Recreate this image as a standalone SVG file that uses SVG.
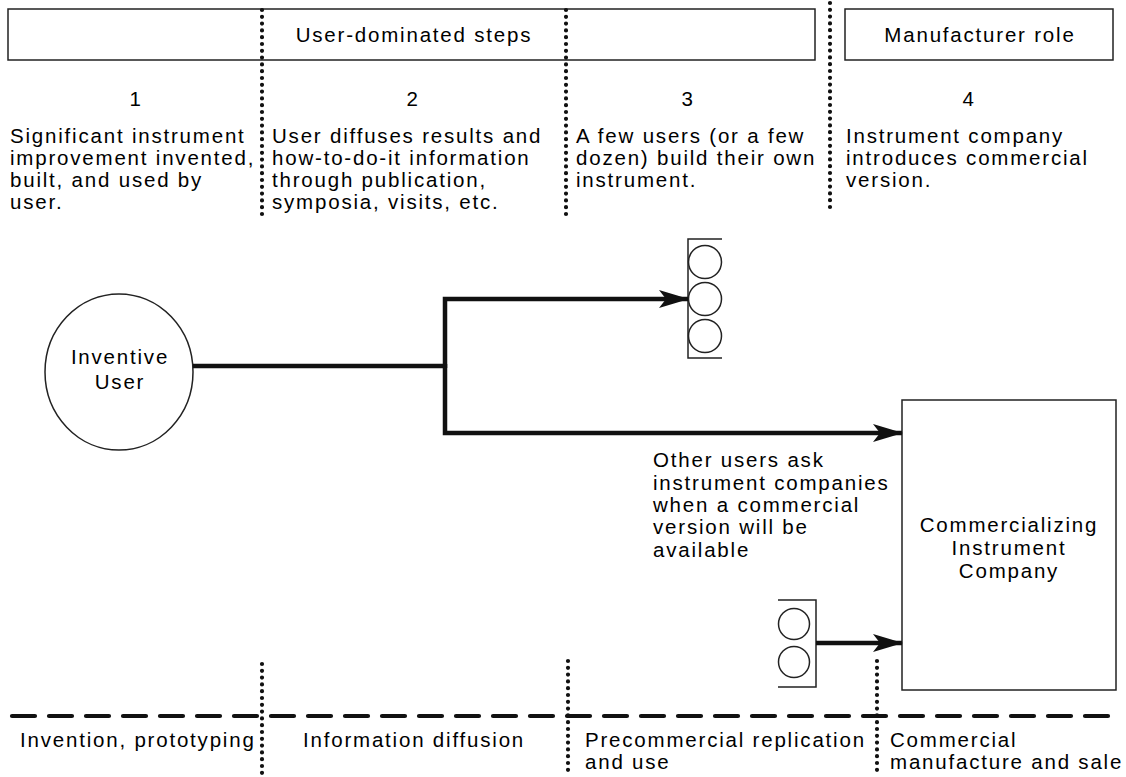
<svg xmlns="http://www.w3.org/2000/svg" width="1126" height="777" viewBox="0 0 1126 777">
<style>
text{font-family:"Liberation Sans",Arial,Helvetica,sans-serif;font-size:20.5px;fill:#000;letter-spacing:1.8px}
.c{text-anchor:middle}
.box{fill:none;stroke:#222;stroke-width:1.5}
.dot{fill:none;stroke:#111;stroke-width:4.2;stroke-linecap:round;stroke-dasharray:0 6.8}
.dash{fill:none;stroke:#111;stroke-width:4.2;stroke-linecap:round;stroke-dasharray:23 14}
.thick{fill:none;stroke:#111;stroke-width:4.5;stroke-linejoin:miter}
.thin{fill:none;stroke:#222;stroke-width:1.5}
</style>
<defs>
<marker id="ah" markerUnits="userSpaceOnUse" markerWidth="30" markerHeight="20" refX="29" refY="10" orient="auto" viewBox="0 0 30 20">
<path d="M0,1 L30,10 L0,19 L7,10 Z" fill="#111"/>
</marker>
</defs>
<rect width="1126" height="777" fill="#fff"/>
<g id="header-user">
<rect class="box" x="8" y="9" width="807" height="51"/>
<text class="c" x="414" y="42">User-dominated steps</text>
</g>
<g id="header-manufacturer">
<rect class="box" x="845" y="9" width="268" height="51"/>
<text class="c" x="980" y="42">Manufacturer role</text>
</g>
<g id="dividers">
<line class="dot" x1="262" y1="10" x2="262" y2="216"/>
<line class="dot" x1="566" y1="10" x2="566" y2="216"/>
<line class="dot" x1="830" y1="3" x2="830" y2="212"/>
<line class="dot" x1="262" y1="664" x2="262" y2="776"/>
<line class="dot" x1="568" y1="661" x2="568" y2="776"/>
<line class="dot" x1="877" y1="661" x2="877" y2="776"/>
<line class="dash" x1="12" y1="716" x2="1120" y2="716"/>
</g>
<g id="step1">
<text class="c" x="136" y="106">1</text>
<text x="10" y="143">Significant instrument</text>
<text x="10" y="165">improvement invented,</text>
<text x="10" y="187">built, and used by</text>
<text x="10" y="209">user.</text>
</g>
<g id="step2">
<text class="c" x="413" y="106">2</text>
<text x="272" y="143">User diffuses results and</text>
<text x="272" y="165">how-to-do-it information</text>
<text x="272" y="187">through publication,</text>
<text x="272" y="209">symposia, visits, etc.</text>
</g>
<g id="step3">
<text class="c" x="688" y="106">3</text>
<text x="576" y="143">A few users (or a few</text>
<text x="576" y="165">dozen) build their own</text>
<text x="576" y="187">instrument.</text>
</g>
<g id="step4">
<text class="c" x="969" y="106">4</text>
<text x="846" y="143">Instrument company</text>
<text x="846" y="165">introduces commercial</text>
<text x="846" y="187">version.</text>
</g>
<g id="inventive-user">
<ellipse class="thin" cx="119" cy="372" rx="74" ry="78"/>
<text class="c" x="120" y="364">Inventive</text>
<text class="c" x="120" y="389">User</text>
</g>
<g id="few-users">
<path class="thin" d="M722,239 H688 V358 H722"/>
<circle class="thin" cx="705" cy="262" r="16.5"/>
<circle class="thin" cx="705" cy="299" r="16.5"/>
<circle class="thin" cx="705" cy="336" r="16.5"/>
</g>
<g id="other-users">
<path class="thin" d="M778,600 H816 V687 H778"/>
<circle class="thin" cx="794" cy="624" r="15.5"/>
<circle class="thin" cx="794" cy="662" r="15.5"/>
</g>
<g id="company">
<rect class="box" x="902" y="400" width="214" height="290"/>
<text class="c" x="1009" y="532">Commercializing</text>
<text class="c" x="1009" y="555">Instrument</text>
<text class="c" x="1009" y="578">Company</text>
</g>
<g id="connectors">
<path class="thick" d="M193,366 H445"/>
<path class="thick" d="M445,368 V299 H688" marker-end="url(#ah)"/>
<path class="thick" d="M445,364 V433 H902" marker-end="url(#ah)"/>
<path class="thick" d="M816,643 H902" marker-end="url(#ah)"/>
</g>
<g id="note">
<text x="653" y="467">Other users ask</text>
<text x="653" y="490">instrument companies</text>
<text x="653" y="512">when a commercial</text>
<text x="653" y="534">version will be</text>
<text x="653" y="557">available</text>
</g>
<g id="phases">
<text x="20" y="747">Invention, prototyping</text>
<text x="303" y="747">Information diffusion</text>
<text x="585" y="747">Precommercial replication</text>
<text x="585" y="769">and use</text>
<text x="890" y="747">Commercial</text>
<text x="890" y="769">manufacture and sale</text>
</g>
</svg>
